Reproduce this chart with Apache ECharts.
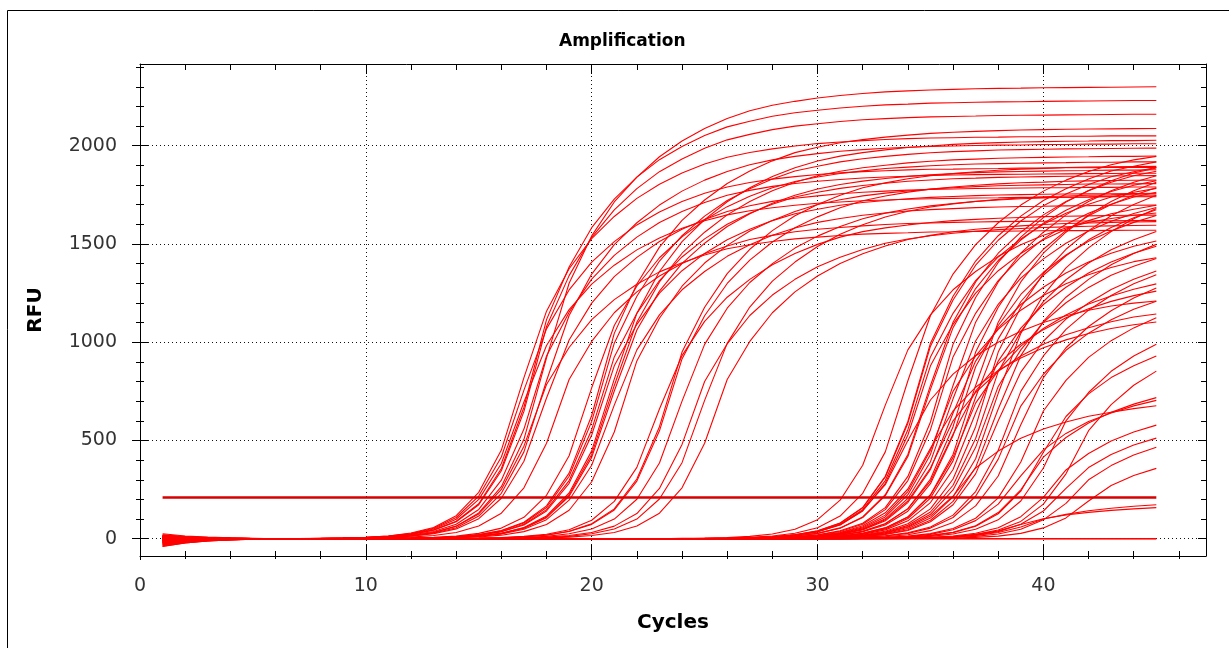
<!DOCTYPE html>
<html><head><meta charset="utf-8">
<script src="https://cdn.jsdelivr.net/npm/echarts@6/dist/echarts.min.js"></script>
<style>html,body{margin:0;padding:0;background:#fff}#chart{width:1229px;height:648px}</style>
</head><body><div id="chart"></div>
<script>
// ---------------- data ----------------
const cycles = [1,2,3,4,5,6,7,8,9,10,11,12,13,14,15,16,17,18,19,20,21,22,23,24,25,26,27,28,29,30,31,32,33,34,35,36,37,38,39,40,41,42,43,44,45];
const thresholdRFU = 210;
const xMajorTicks = [0,10,20,30,40];
const xMinorTicks = [2,4,6,8,12,14,16,18,22,24,26,28,32,34,36,38,42,44,46];
const yMajorTicks = [0,500,1000,1500,2000];
const yMinorTicks = [100,200,300,400,600,700,800,900,1100,1200,1300,1400,1600,1700,1800,1900,2100,2200,2300,2400];
const XMIN = 0, XMAX = 47.2, YMIN = -88, YMAX = 2416;

// early group (Ct ~15)
const A1 = [-20,-11,-6,-3,-1,0,0,1,2,4,8,16,32,64,131,265,506,920,1300,1541,1714,1840,1944,2024,2088,2139,2178,2206,2226,2243,2256,2266,2274,2279,2284,2287,2290,2292,2293,2295,2296,2297,2298,2299,2300];
const A2 = [12,7,4,2,1,0,0,1,3,6,11,22,45,89,178,357,669,1115,1383,1583,1728,1840,1929,1996,2052,2096,2125,2150,2168,2181,2192,2201,2208,2212,2217,2219,2221,2223,2224,2226,2227,2228,2229,2230,2230];
const A3 = [-35,-19,-10,-5,-2,0,0,1,3,5,11,22,43,86,173,346,648,1080,1339,1534,1674,1782,1868,1933,1987,2030,2058,2082,2100,2112,2123,2132,2138,2143,2147,2149,2151,2154,2155,2156,2157,2158,2159,2160,2160];
const A4 = [5,3,2,1,0,0,1,2,4,7,14,29,57,117,236,451,820,1158,1374,1527,1640,1732,1804,1861,1907,1941,1966,1984,1999,2011,2019,2026,2032,2036,2039,2041,2043,2044,2046,2046,2048,2048,2050,2050,2050];
const A5 = [-10,-6,-3,-2,-1,0,0,1,2,4,7,14,28,56,115,231,442,804,1136,1347,1497,1608,1698,1769,1825,1869,1903,1928,1946,1960,1972,1980,1987,1992,1996,1999,2001,2003,2004,2006,2006,2008,2008,2010,2010];
const A6 = [18,10,5,3,1,0,1,2,3,7,13,26,53,108,217,416,756,1068,1266,1408,1512,1597,1663,1716,1758,1790,1813,1830,1843,1854,1862,1868,1873,1877,1880,1881,1883,1884,1886,1886,1888,1888,1890,1890,1890];
const A7 = [-5,-3,-2,-1,0,0,0,1,2,5,9,19,37,74,149,298,558,930,1153,1321,1442,1535,1609,1665,1711,1748,1773,1793,1808,1819,1828,1836,1841,1845,1849,1851,1853,1854,1855,1856,1857,1858,1859,1860,1860];
const A8 = [3,2,1,0,0,0,0,1,2,3,6,13,25,50,102,206,394,716,1011,1199,1334,1432,1513,1575,1625,1665,1695,1717,1733,1745,1756,1763,1769,1774,1777,1780,1782,1784,1785,1786,1786,1788,1788,1790,1790];
const A9 = [-28,-15,-8,-4,-2,0,0,2,3,6,12,24,49,99,200,383,696,983,1166,1296,1392,1470,1531,1580,1618,1648,1669,1684,1697,1707,1714,1720,1724,1728,1730,1732,1734,1735,1737,1737,1738,1738,1740,1740,1740];
const A10 = [8,4,2,1,1,0,0,0,1,2,4,8,16,32,65,130,259,486,810,1004,1150,1256,1337,1401,1450,1490,1523,1544,1562,1575,1584,1592,1599,1604,1607,1610,1612,1614,1615,1616,1617,1617,1618,1619,1620];
const A11 = [-15,-8,-5,-2,-1,0,0,1,2,4,8,16,31,63,126,251,471,785,973,1115,1217,1295,1358,1405,1444,1476,1496,1513,1526,1535,1543,1550,1554,1557,1561,1562,1564,1565,1566,1567,1568,1568,1569,1570,1570];

// second group (Ct ~18.5)
const B1 = [6,3,2,1,0,0,0,0,0,0,1,3,5,10,21,42,84,167,334,627,1045,1296,1484,1620,1724,1808,1871,1923,1965,1992,2015,2031,2044,2054,2063,2069,2073,2077,2080,2082,2084,2085,2086,2087,2088];
const B2 = [-22,-12,-7,-3,-2,0,0,0,0,0,1,2,4,7,14,28,57,116,233,447,812,1147,1360,1512,1624,1715,1786,1843,1888,1922,1947,1965,1979,1991,1999,2007,2012,2016,2019,2021,2023,2024,2026,2026,2028];
const B3 = [2,1,1,0,0,0,0,0,0,0,1,2,5,10,20,40,80,159,318,597,995,1234,1413,1542,1642,1721,1781,1831,1871,1896,1918,1934,1946,1956,1964,1970,1974,1978,1980,1982,1984,1985,1986,1987,1988];
const B4 = [14,8,4,2,1,0,0,0,0,0,1,2,4,7,14,27,55,111,224,429,780,1102,1307,1453,1560,1648,1716,1771,1814,1847,1870,1888,1901,1913,1921,1928,1932,1936,1939,1941,1943,1944,1946,1946,1948];
const B5 = [-8,-4,-2,-1,-1,0,0,0,0,1,2,3,7,13,27,54,109,221,422,768,1085,1286,1430,1536,1622,1690,1743,1786,1818,1841,1859,1872,1884,1891,1898,1903,1907,1909,1911,1913,1914,1916,1916,1918,1918];
const B6 = [25,14,8,4,2,0,0,0,0,0,1,2,3,7,13,26,53,107,216,414,752,1062,1260,1401,1504,1589,1654,1707,1748,1780,1803,1820,1833,1844,1852,1858,1863,1867,1869,1871,1873,1874,1876,1876,1878];
const B7 = [-40,-22,-12,-6,-3,0,0,0,0,0,1,2,5,9,19,37,74,148,296,555,925,1147,1314,1434,1526,1600,1656,1702,1739,1763,1783,1798,1809,1819,1826,1832,1835,1839,1841,1843,1845,1845,1846,1847,1848];
const B8 = [4,2,1,1,0,0,0,0,0,0,0,1,2,5,9,18,36,72,145,290,543,905,1122,1285,1403,1493,1566,1620,1665,1701,1725,1745,1759,1770,1779,1786,1792,1796,1799,1801,1803,1805,1805,1806,1807];
const B9 = [10,6,3,2,1,0,0,0,0,0,1,2,4,9,18,35,70,141,282,528,880,1091,1250,1364,1452,1522,1575,1619,1654,1677,1697,1711,1721,1730,1737,1742,1746,1749,1751,1753,1754,1755,1756,1757,1758];
const B10 = [-18,-10,-5,-3,-1,0,0,0,0,0,1,2,3,6,12,24,48,97,196,374,680,961,1139,1267,1360,1437,1496,1544,1581,1610,1630,1646,1658,1668,1675,1680,1685,1688,1691,1692,1694,1695,1697,1697,1698];

// third group (Ct ~21.5)
const C1 = [7,4,2,1,0,0,0,0,0,0,0,0,0,1,2,5,10,19,38,76,152,304,570,950,1178,1349,1473,1568,1644,1701,1748,1786,1811,1832,1847,1858,1868,1875,1881,1885,1889,1891,1893,1894,1895];
const C2 = [-12,-7,-4,-2,-1,0,0,0,0,0,0,0,0,1,2,5,9,18,37,73,146,293,549,915,1135,1299,1418,1510,1583,1638,1684,1720,1744,1764,1779,1790,1799,1806,1812,1815,1819,1821,1823,1824,1825];
const C3 = [3,2,1,0,0,0,0,0,0,0,0,0,0,1,2,3,6,12,25,49,100,201,385,700,989,1173,1304,1400,1479,1540,1589,1628,1657,1678,1694,1706,1717,1724,1730,1734,1738,1740,1743,1744,1745];
const C4 = [-6,-3,-2,-1,0,0,0,0,0,0,0,0,0,1,3,6,12,23,46,94,190,363,660,932,1106,1229,1320,1394,1452,1498,1535,1563,1582,1597,1609,1619,1625,1631,1635,1639,1641,1643,1645,1646,1647];
const C5 = [15,8,5,2,1,0,0,0,0,0,0,0,0,0,1,2,4,8,16,32,64,128,256,480,800,992,1136,1240,1320,1384,1432,1472,1504,1525,1542,1555,1565,1573,1579,1584,1587,1590,1592,1594,1595];

// fourth group (Ct ~23.5)
const D1 = [-3,-2,-1,0,0,0,0,0,0,0,0,0,0,0,0,2,3,6,12,25,49,100,202,387,704,994,1179,1311,1408,1487,1549,1598,1637,1667,1688,1704,1716,1727,1734,1740,1744,1748,1750,1753,1754];
const D2 = [9,5,3,1,1,0,0,0,0,0,0,0,0,0,0,1,2,4,8,16,32,65,130,259,486,810,1004,1150,1256,1337,1401,1450,1490,1523,1544,1562,1575,1584,1592,1599,1604,1607,1610,1612,1614];

// late group (Ct 31-41)
const E0 = [-6,-3,-2,-1,0,0,0,0,0,0,0,0,0,0,0,0,0,0,0,0,0,0,0,2,3,6,12,24,48,97,196,374,680,961,1139,1267,1360,1437,1496,1544,1581,1610,1630,1646,1658];
const E1 = [-14,-8,-4,-2,-1,0,0,0,0,0,0,0,0,0,0,0,0,0,0,0,0,0,0,0,2,4,7,14,28,56,115,231,442,804,1136,1347,1497,1608,1698,1769,1825,1869,1903,1928,1946];
const E2 = [5,3,2,1,0,0,0,0,0,0,0,0,0,0,0,0,0,0,0,0,0,0,0,0,1,2,5,10,20,40,80,159,318,597,995,1234,1413,1542,1642,1721,1781,1831,1871,1896,1918];
const E3 = [-9,-5,-3,-1,-1,0,0,0,0,0,0,0,0,0,0,0,0,0,0,0,0,0,0,0,1,2,5,10,20,39,78,157,314,588,980,1215,1392,1519,1617,1695,1754,1803,1842,1868,1889];
const E4 = [20,11,6,3,1,0,0,0,0,0,0,0,0,0,0,0,0,0,0,0,0,0,0,0,1,2,4,9,18,35,70,141,282,528,880,1091,1250,1364,1452,1522,1575,1619,1654,1677,1697];
const E39 = [-3,-2,-1,0,0,0,0,0,0,0,0,0,0,0,0,0,0,0,0,0,0,0,0,0,1,2,5,9,19,37,74,148,296,555,925,1147,1314,1434,1526,1600,1656,1702,1739,1763,1783];
const E44 = [2,1,1,0,0,0,0,0,0,0,0,0,0,0,0,0,0,0,0,0,0,0,0,0,1,2,4,9,18,35,71,144,275,500,706,838,931,1000,1056,1100,1135,1163,1184,1199,1210];
const E5 = [-25,-14,-8,-4,-2,0,0,0,0,0,0,0,0,0,0,0,0,0,0,0,0,0,0,0,0,2,4,7,14,27,55,111,224,429,780,1102,1307,1453,1560,1648,1716,1771,1814,1847,1870];
const E6 = [11,6,3,2,1,0,0,0,0,0,0,0,0,0,0,0,0,0,0,0,0,0,0,0,0,2,3,7,13,27,53,108,219,418,760,1074,1273,1416,1520,1606,1672,1725,1767,1799,1822];
const E7 = [-6,-3,-2,-1,0,0,0,0,0,0,0,0,0,0,0,0,0,0,0,0,0,0,0,0,0,1,2,4,8,16,32,66,132,253,460,650,771,857,920,972,1012,1044,1070,1089,1103];
const E8 = [7,4,2,1,0,0,0,0,0,0,0,0,0,0,0,0,0,0,0,0,0,0,0,0,0,1,2,5,10,20,40,79,158,317,594,990,1228,1406,1535,1634,1713,1772,1822,1861,1887];
const E9 = [-16,-9,-5,-2,-1,0,0,0,0,0,0,0,0,0,0,0,0,0,0,0,0,0,0,0,0,1,2,5,9,19,37,74,148,296,555,925,1147,1314,1434,1526,1600,1656,1702,1739,1763];
const E10 = [4,2,1,1,0,0,0,0,0,0,0,0,0,0,0,0,0,0,0,0,0,0,0,0,0,1,1,3,6,12,24,48,96,192,360,600,744,852,930,990,1038,1074,1104,1128,1144];
const E40 = [-2,-1,-1,0,0,0,0,0,0,0,0,0,0,0,0,0,0,0,0,0,0,0,0,0,0,1,2,4,8,15,30,60,120,240,450,750,930,1065,1163,1238,1298,1343,1380,1410,1430];
const E11 = [13,7,4,2,1,0,0,0,0,0,0,0,0,0,0,0,0,0,0,0,0,0,0,0,0,0,2,4,7,14,27,55,111,224,429,780,1102,1307,1453,1560,1648,1716,1771,1814,1847];
const E12 = [-32,-18,-10,-5,-2,0,0,0,0,0,0,0,0,0,0,0,0,0,0,0,0,0,0,0,0,0,2,3,6,12,25,50,101,205,392,712,1006,1193,1326,1424,1504,1566,1616,1655,1686];
const E13 = [1,1,0,0,0,0,0,0,0,0,0,0,0,0,0,0,0,0,0,0,0,0,0,0,0,0,1,2,5,9,19,37,76,153,293,532,751,891,991,1064,1124,1170,1208,1237,1260];
const E41 = [8,4,2,1,1,0,0,0,0,0,0,0,0,0,0,0,0,0,0,0,0,0,0,0,0,0,1,3,6,11,22,45,91,184,352,640,904,1072,1192,1280,1352,1408,1453,1488,1515];
const E14 = [-11,-6,-3,-2,-1,0,0,0,0,0,0,0,0,0,0,0,0,0,0,0,0,0,0,0,0,0,1,2,5,10,19,38,76,152,304,570,950,1178,1349,1473,1568,1644,1701,1748,1786];
const E15 = [16,9,5,2,1,0,0,0,0,0,0,0,0,0,0,0,0,0,0,0,0,0,0,0,0,0,1,2,4,9,18,35,70,140,280,525,875,1085,1243,1356,1444,1514,1566,1610,1645];
const E16 = [-20,-11,-6,-3,-1,0,0,0,0,0,0,0,0,0,0,0,0,0,0,0,0,0,0,0,0,0,1,2,3,7,14,28,55,110,221,414,690,856,980,1070,1139,1194,1235,1270,1297];
const E17 = [3,2,1,0,0,0,0,0,0,0,0,0,0,0,0,0,0,0,0,0,0,0,0,0,0,0,0,1,2,4,7,14,29,58,115,216,360,446,511,558,594,623,644,662,677];
const E18 = [-7,-4,-2,-1,0,0,0,0,0,0,0,0,0,0,0,0,0,0,0,0,0,0,0,0,0,0,0,2,3,6,13,25,50,103,207,396,720,1017,1206,1341,1440,1521,1584,1634,1674];
const E19 = [6,3,2,1,0,0,0,0,0,0,0,0,0,0,0,0,0,0,0,0,0,0,0,0,0,0,0,1,3,6,11,22,45,91,184,352,640,904,1072,1192,1280,1352,1408,1453,1488];
const E42 = [-38,-21,-11,-6,-3,0,0,0,0,0,0,0,0,0,0,0,0,0,0,0,0,0,0,0,0,0,0,2,4,7,14,27,55,111,224,429,780,1102,1307,1453,1560,1648,1716,1771,1814];
const E20 = [9,5,3,1,1,0,0,0,0,0,0,0,0,0,0,0,0,0,0,0,0,0,0,0,0,0,0,1,2,4,9,17,34,68,136,272,510,850,1054,1207,1318,1403,1471,1522,1564];
const E21 = [-13,-7,-4,-2,-1,0,0,0,0,0,0,0,0,0,0,0,0,0,0,0,0,0,0,0,0,0,0,1,2,4,8,16,31,62,124,248,465,775,961,1101,1201,1279,1341,1387,1426];
const E43 = [2,1,1,0,0,0,0,0,0,0,0,0,0,0,0,0,0,0,0,0,0,0,0,0,0,0,0,1,2,5,10,19,38,76,152,304,570,950,1178,1349,1473,1568,1644,1701,1748];
const E22 = [-4,-2,-1,-1,0,0,0,0,0,0,0,0,0,0,0,0,0,0,0,0,0,0,0,0,0,0,0,0,1,3,6,12,23,46,94,190,363,660,932,1106,1229,1320,1394,1452,1498];
const E23 = [12,7,4,2,1,0,0,0,0,0,0,0,0,0,0,0,0,0,0,0,0,0,0,0,0,0,0,0,1,3,5,11,21,42,86,173,330,600,848,1005,1118,1200,1268,1320,1362];
const E45 = [-21,-12,-6,-3,-1,0,0,0,0,0,0,0,0,0,0,0,0,0,0,0,0,0,0,0,0,0,0,0,2,3,6,13,26,52,105,213,407,740,1045,1240,1378,1480,1563,1628,1680];
const E24 = [5,3,2,1,0,0,0,0,0,0,0,0,0,0,0,0,0,0,0,0,0,0,0,0,0,0,0,0,1,2,4,8,15,30,60,120,240,450,750,930,1065,1163,1238,1298,1343];
const E25 = [-8,-4,-2,-1,-1,0,0,0,0,0,0,0,0,0,0,0,0,0,0,0,0,0,0,0,0,0,0,0,1,2,3,7,14,27,54,108,216,405,675,837,959,1046,1114,1168,1208];
const E26 = [10,6,3,2,1,0,0,0,0,0,0,0,0,0,0,0,0,0,0,0,0,0,0,0,0,0,0,0,0,1,3,5,10,20,41,83,167,319,580,819,972,1080,1160,1225,1276];
const E27 = [-5,-3,-2,-1,0,0,0,0,0,0,0,0,0,0,0,0,0,0,0,0,0,0,0,0,0,0,0,0,0,1,1,3,6,11,22,46,92,176,320,452,536,596,640,676,704];
const E28 = [1,1,0,0,0,0,0,0,0,0,0,0,0,0,0,0,0,0,0,0,0,0,0,0,0,0,0,0,0,0,0,1,1,3,5,10,21,40,72,102,121,134,144,152,158];
const E29 = [-17,-9,-5,-3,-1,0,0,0,0,0,0,0,0,0,0,0,0,0,0,0,0,0,0,0,0,0,0,0,0,1,2,3,7,13,26,52,104,208,390,650,806,923,1008,1073,1125];
const E30 = [7,4,2,1,0,0,0,0,0,0,0,0,0,0,0,0,0,0,0,0,0,0,0,0,0,0,0,0,0,0,1,2,4,8,17,33,66,133,249,415,515,589,643,685,718];
const E31 = [-3,-2,-1,0,0,0,0,0,0,0,0,0,0,0,0,0,0,0,0,0,0,0,0,0,0,0,0,0,0,0,0,1,1,2,4,8,16,32,60,100,124,142,155,165,173];
const E32 = [4,2,1,1,0,0,0,0,0,0,0,0,0,0,0,0,0,0,0,0,0,0,0,0,0,0,0,0,0,0,1,2,4,8,15,31,63,127,242,440,622,737,820,880,930];
const E33 = [-26,-14,-8,-4,-2,0,0,0,0,0,0,0,0,0,0,0,0,0,0,0,0,0,0,0,0,0,0,0,0,0,1,1,3,6,12,24,48,96,192,360,600,744,852,930,990];
const E34 = [6,3,2,1,0,0,0,0,0,0,0,0,0,0,0,0,0,0,0,0,0,0,0,0,0,0,0,0,0,0,0,1,2,4,7,14,28,56,112,210,350,434,497,543,578];
const E35 = [-9,-5,-3,-1,-1,0,0,0,0,0,0,0,0,0,0,0,0,0,0,0,0,0,0,0,0,0,0,0,0,0,0,1,1,2,4,9,18,36,74,141,256,362,429,477,512];
const E36 = [3,2,1,0,0,0,0,0,0,0,0,0,0,0,0,0,0,0,0,0,0,0,0,0,0,0,0,0,0,0,0,1,1,3,6,11,22,44,88,176,330,550,682,781,853];
const E37 = [-12,-7,-4,-2,-1,0,0,0,0,0,0,0,0,0,0,0,0,0,0,0,0,0,0,0,0,0,0,0,0,0,0,0,1,2,3,6,12,24,48,96,180,300,372,426,465];
const E38 = [9,5,3,1,1,0,0,0,0,0,0,0,0,0,0,0,0,0,0,0,0,0,0,0,0,0,0,0,0,0,0,0,0,1,2,3,7,13,27,55,106,192,271,322,358];

// wells without amplification
const Z1 = [-30,-17,-9,-5,-2,0,0,0,0,0,0,0,0,0,0,0,0,0,0,0,0,0,0,0,0,0,0,0,0,0,0,0,0,0,0,0,0,0,0,0,0,0,0,0,0];
const Z2 = [10,6,3,2,1,0,0,0,0,0,0,0,0,0,0,0,0,0,0,0,0,0,0,0,0,0,0,0,0,0,0,0,0,0,0,0,0,0,0,0,0,0,0,0,0];
const Z3 = [-4,-2,-1,-1,0,0,0,0,0,0,0,0,0,0,0,0,0,0,0,0,0,0,0,0,0,0,0,0,0,0,0,0,0,0,0,0,0,0,0,0,0,0,0,0,0];

const curves = {A1,A2,A3,A4,A5,A6,A7,A8,A9,A10,A11,B1,B2,B3,B4,B5,B6,B7,B8,B9,B10,C1,C2,C3,C4,C5,D1,D2,
  E0,E1,E2,E3,E4,E39,E44,E5,E6,E7,E8,E9,E10,E40,E11,E12,E13,E41,E14,E15,E16,E17,E18,E19,E42,E20,E21,E43,
  E22,E23,E45,E24,E25,E26,E27,E28,E29,E30,E31,E32,E33,E34,E35,E36,E37,E38,Z1,Z2,Z3};

const bad = Object.keys(curves).filter(k => curves[k].length !== cycles.length).map(k => k + ':' + curves[k].length);
if (bad.length) throw new Error('Length mismatch: ' + bad.join(', '));

// ---------------- chart ----------------
const chart = echarts.init(document.getElementById('chart'), null, {renderer: 'canvas', width: 1229, height: 648});
const FONT = 'DejaVu Sans';

function tickAxis(dim, pos, values, inside, len, extra) {
  const base = {
    type: 'value', gridIndex: 0, position: pos,
    min: dim === 'x' ? XMIN : YMIN, max: dim === 'x' ? XMAX : YMAX,
    axisLine: {show: false, onZero: false},
    axisTick: {show: true, inside: inside, length: len, customValues: values, lineStyle: {color: '#000', width: 1}},
    axisLabel: {show: false},
    splitLine: {show: false},
    minorTick: {show: false},
    silent: true
  };
  return Object.assign(base, extra || {});
}
const dotted = {show: true, lineStyle: {color: '#111', width: 1, type: [1, 3]}};
const plainNumber = v => String(v);

const xAxes = [
  tickAxis('x', 'bottom', xMajorTicks, true, 11, {
    axisLine: {show: true, onZero: false, lineStyle: {color: '#000', width: 1}},
    axisLabel: {show: true, customValues: xMajorTicks, formatter: plainNumber, margin: 21, fontFamily: FONT, fontSize: 19, color: '#333'},
    splitLine: dotted,
    name: 'Cycles', nameLocation: 'middle', nameGap: 57,
    nameTextStyle: {fontFamily: FONT, fontWeight: 'bold', fontSize: 20, color: '#000'}
  }),
  tickAxis('x', 'bottom', xMajorTicks, false, 4),
  tickAxis('x', 'bottom', xMinorTicks, true, 5),
  tickAxis('x', 'bottom', xMinorTicks, false, 3),
  tickAxis('x', 'top', xMajorTicks, true, 10, {axisLine: {show: true, onZero: false, lineStyle: {color: '#000', width: 1}}}),
  tickAxis('x', 'top', xMinorTicks, true, 6)
];
const yAxes = [
  tickAxis('y', 'left', yMajorTicks, true, 8, {
    axisLine: {show: true, onZero: false, lineStyle: {color: '#000', width: 1}},
    axisLabel: {show: true, customValues: yMajorTicks, formatter: plainNumber, margin: 23, fontFamily: FONT, fontSize: 19, color: '#333'},
    splitLine: dotted,
    name: 'RFU', nameLocation: 'middle', nameGap: 94,
    nameTextStyle: {fontFamily: FONT, fontWeight: 'bold', fontSize: 20, color: '#000'}
  }),
  tickAxis('y', 'left', yMajorTicks, false, 8),
  tickAxis('y', 'left', yMinorTicks, true, 4),
  tickAxis('y', 'left', yMinorTicks, false, 4),
  tickAxis('y', 'right', yMajorTicks, true, 8, {axisLine: {show: true, onZero: false, lineStyle: {color: '#000', width: 1}}}),
  tickAxis('y', 'right', yMinorTicks, true, 5)
];

const series = Object.keys(curves).map(k => ({
  name: k, type: 'line', xAxisIndex: 0, yAxisIndex: 0,
  data: cycles.map((c, i) => [c, curves[k][i]]),
  symbol: 'none', showSymbol: false, silent: true, smooth: false,
  lineStyle: {color: '#ff0000', width: 1.1},
  emphasis: {disabled: true}, z: 3
}));
series.push({
  name: 'Threshold', type: 'line', xAxisIndex: 0, yAxisIndex: 0,
  data: [[cycles[0], thresholdRFU], [cycles[cycles.length - 1], thresholdRFU]],
  symbol: 'none', silent: true, lineStyle: {color: '#d80000', width: 2.6},
  emphasis: {disabled: true}, z: 4
});

chart.setOption({
  animation: false,
  backgroundColor: '#fff',
  title: {
    text: 'Amplification', left: 559, top: 33, padding: 0,
    textStyle: {fontFamily: FONT, fontWeight: 'bold', fontSize: 17, color: '#000'}
  },
  grid: {left: 140, right: 23, top: 64, bottom: 92, containLabel: false},
  xAxis: xAxes,
  yAxis: yAxes,
  graphic: [{
    type: 'rect', silent: true, z: -10,
    shape: {x: 7.5, y: 10.5, width: 1240, height: 660},
    style: {fill: 'none', stroke: '#000', lineWidth: 1}
  }],
  series: series
});
</script>
</body></html>
